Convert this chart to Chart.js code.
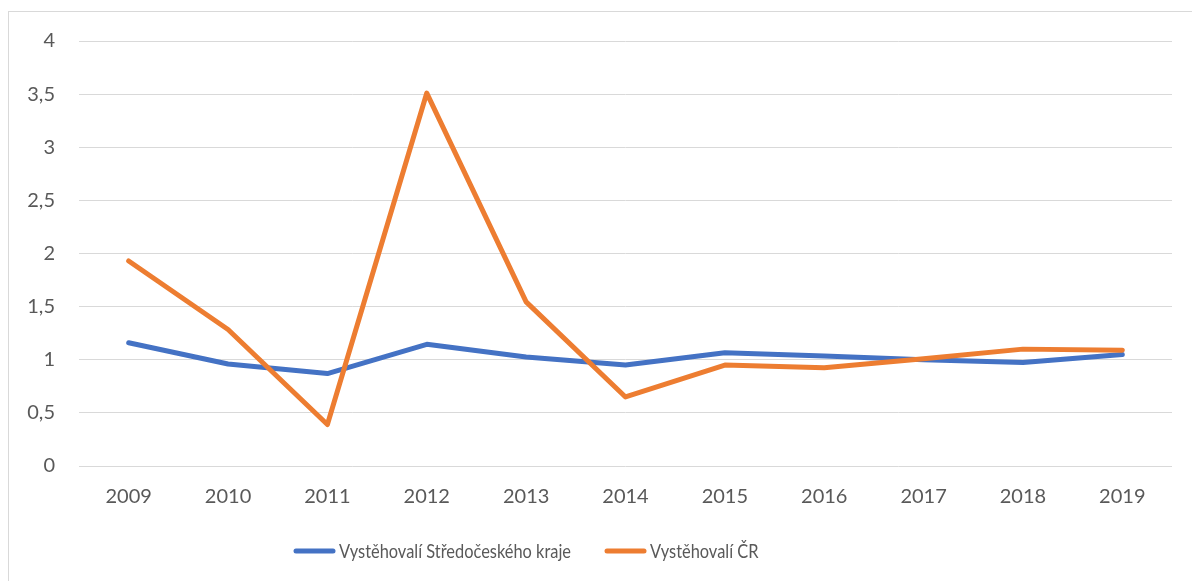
<!DOCTYPE html>
<html>
<head>
<meta charset="utf-8">
<script src="https://cdn.jsdelivr.net/npm/chart.js@4/dist/chart.umd.min.js"></script>
<style>
html,body{margin:0;padding:0;background:#fff;}
#wrap{position:relative;width:1192px;height:581px;overflow:hidden;}
#frame{position:absolute;left:8px;top:11px;width:1200px;height:600px;border:1px solid #D9D9D9;box-sizing:border-box;}
canvas{position:absolute;left:0;top:0;}
</style>
</head>
<body>
<div id="wrap">
<div id="frame"></div>
<canvas id="c" width="1192" height="581"></canvas>
</div>
<script>
const years = ['2009','2010','2011','2012','2013','2014','2015','2016','2017','2018','2019'];
const stredocesky = [1.16, 0.96, 0.87, 1.145, 1.025, 0.95, 1.065, 1.035, 1.0, 0.975, 1.05];
const cr = [1.93, 1.285, 0.39, 3.51, 1.545, 0.65, 0.95, 0.925, 1.01, 1.10, 1.09];
const seriesNames = ['Vystěhovalí Středočeského kraje', 'Vystěhovalí ČR'];
const colors = ['#4472C4', '#ED7D31'];

const FONT = 'Lato, "Open Sans", sans-serif';

const customLegend = {
  id: 'customLegend',
  afterDraw(chart) {
    const ctx = chart.ctx;
    const y = 551;
    const sx = 0.82;
    let x = 294;
    ctx.save();
    ctx.font = '20px ' + FONT;
    ctx.textBaseline = 'middle';
    ctx.textAlign = 'left';
    chart.data.datasets.forEach(ds => {
      ctx.strokeStyle = ds.borderColor;
      ctx.lineWidth = 5;
      ctx.lineCap = 'round';
      ctx.beginPath();
      ctx.moveTo(x + 2, y);
      ctx.lineTo(x + 39, y);
      ctx.stroke();
      const tx = x + 45;
      const w = ctx.measureText(ds.label).width * sx;
      ctx.save();
      ctx.translate(tx, y);
      ctx.scale(sx, 1);
      ctx.fillStyle = '#595959';
      ctx.fillText(ds.label, 0, 1);
      ctx.restore();
      x = tx + w + 34;
    });
    ctx.restore();
  }
};

new Chart(document.getElementById('c'), {
  type: 'line',
  data: {
    labels: years,
    datasets: [
      {label: seriesNames[0], data: stredocesky, borderColor: colors[0], backgroundColor: colors[0], order: 1},
      {label: seriesNames[1], data: cr, borderColor: colors[1], backgroundColor: colors[1], order: 0}
    ]
  },
  plugins: [customLegend],
  options: {
    responsive: false,
    animation: false,
    devicePixelRatio: 1,
    layout: {padding: {left: 0, right: 20, top: 41, bottom: 50}},
    elements: {
      line: {borderWidth: 5, tension: 0, borderCapStyle: 'round', borderJoinStyle: 'round'},
      point: {radius: 0, hoverRadius: 0}
    },
    plugins: {
      tooltip: {enabled: false},
      legend: {display: false}
    },
    scales: {
      x: {
        offset: true,
        grid: {display: false, drawTicks: false},
        border: {display: false},
        ticks: {font: {family: FONT, size: 20}, color: '#595959', padding: 19, maxRotation: 0},
        afterFit: s => { s.height = 65; }
      },
      y: {
        min: 0, max: 4,
        grid: {color: '#D9D9D9', lineWidth: 1, drawTicks: false},
        border: {display: false},
        ticks: {
          stepSize: 0.5,
          font: {family: FONT, size: 20},
          color: '#595959',
          padding: 24,
          callback: v => String(v).replace('.', ',')
        },
        afterFit: s => { s.width = 79; }
      }
    }
  }
});
</script>
</body>
</html>
